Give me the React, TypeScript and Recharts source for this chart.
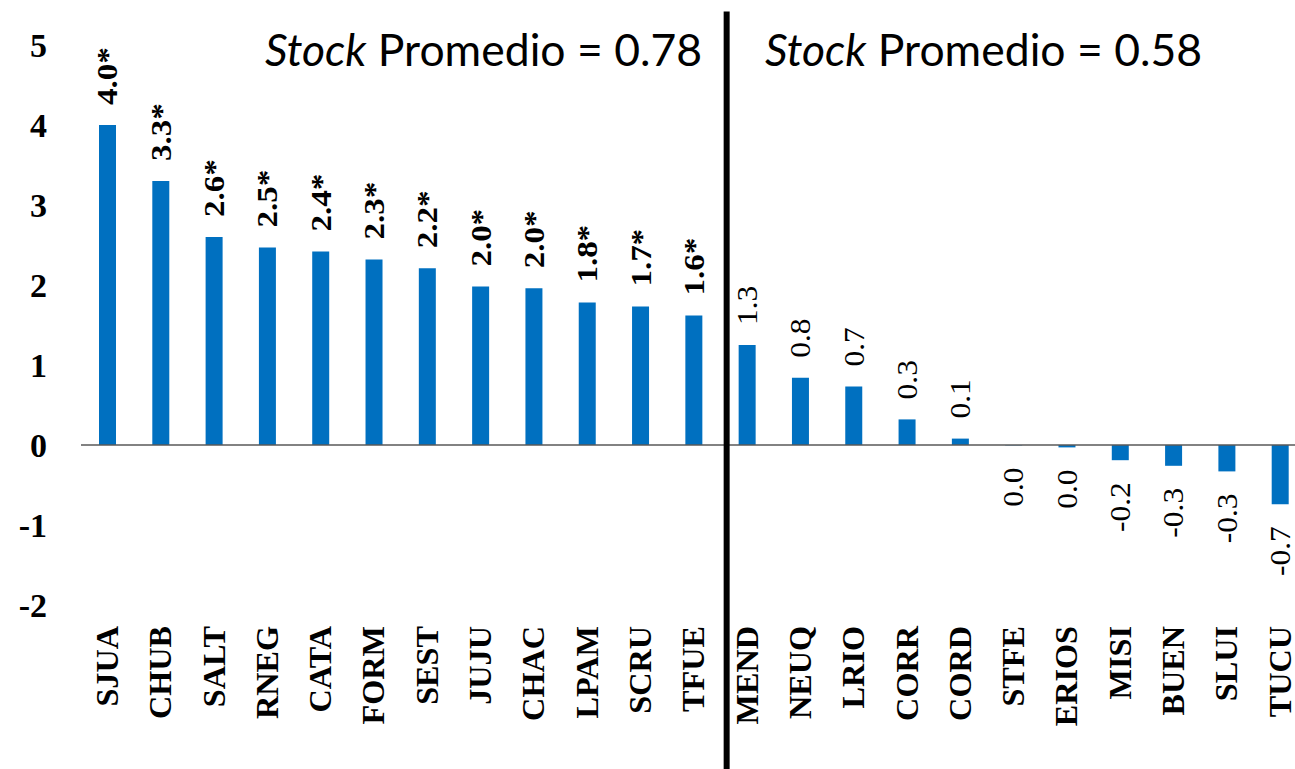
import { BarChart, Bar, XAxis, YAxis, ReferenceLine, LabelList } from 'recharts';

// provincias, en el orden del gráfico
const provinces = [
  'SJUA', 'CHUB', 'SALT', 'RNEG', 'CATA', 'FORM', 'SEST', 'JUJU', 'CHAC', 'LPAM', 'SCRU', 'TFUE',
  'MEND', 'NEUQ', 'LRIO', 'CORR', 'CORD', 'STFE', 'ERIOS', 'MISI', 'BUEN', 'SLUI', 'TUCU',
];

const values = [
  4.0, 3.3, 2.6, 2.47, 2.42, 2.32, 2.21, 1.98, 1.96, 1.78, 1.73, 1.62,
  1.25, 0.84, 0.73, 0.32, 0.08, -0.005, -0.03, -0.19, -0.26, -0.33, -0.74,
];

const valueLabels = [
  '4.0*', '3.3*', '2.6*', '2.5*', '2.4*', '2.3*', '2.2*', '2.0*', '2.0*', '1.8*', '1.7*', '1.6*',
  '1.3', '0.8', '0.7', '0.3', '0.1', '0.0', '0.0', '-0.2', '-0.3', '-0.3', '-0.7',
];

const yTicks = [-2, -1, 0, 1, 2, 3, 4, 5];

const groupAverages = ['0.78', '0.58'];
const lastOfFirstGroup = 'TFUE';

const data = provinces.map((name, i) => ({ name, value: values[i], label: valueLabels[i] }));

const SERIF = '"Liberation Serif", "Times New Roman", serif';
const SANS = 'Lato, "Open Sans", sans-serif';

const ProvinceTick = (props: any) => {
  const { x, y, payload } = props;
  return (
    <text
      transform={`translate(${x},${y + 21}) rotate(-90) scale(1.04,1)`}
      textAnchor="end"
      dominantBaseline="central"
      fontFamily={SERIF}
      fontWeight={700}
      fontSize={31}
      fill="#000"
    >
      {payload.value}
    </text>
  );
};

const renderValueLabel = (props: any) => {
  const { x, y, width, height, value } = props;
  if (x === undefined || y === undefined) return null;
  const txt = String(value);
  const num = parseFloat(txt);
  const cx = Number(x) + Number(width) / 2;
  const top = Math.min(Number(y), Number(y) + Number(height));
  const bottom = Math.max(Number(y), Number(y) + Number(height));
  const above = num > 0;
  const ay = above ? top - 20 : bottom + 22;
  const bold = txt.includes('*');
  return (
    <text
      transform={`translate(${cx},${ay}) rotate(-90) scale(${bold ? 1.1 : 1.05},1)`}
      textAnchor={above ? 'start' : 'end'}
      dominantBaseline="central"
      fontFamily={SERIF}
      fontWeight={bold ? 700 : 400}
      fontSize={30}
      fill="#000"
    >
      {txt}
    </text>
  );
};

const DividerLine = (props: any) => {
  const { x1, y1, x2, y2 } = props;
  return <line x1={x1 + 6} y1={y1} x2={x2 + 6} y2={y2} stroke="#000" strokeWidth={6} />;
};

export default function App() {
  return (
    <div style={{ position: 'absolute', left: 0, top: 0, width: 1295, height: 769, overflow: 'hidden', background: '#fff' }}>
      <BarChart
        width={1310}
        height={769}
        data={data}
        margin={{ top: 45, right: 3, left: 0, bottom: 0 }}
      >
        <XAxis
          dataKey="name"
          interval={0}
          axisLine={false}
          tickLine={false}
          tickSize={0}
          tickMargin={0}
          height={164}
          tick={<ProvinceTick />}
        />
        <YAxis
          domain={[-2, 5]}
          ticks={yTicks}
          width={81}
          axisLine={false}
          tickLine={false}
          tickSize={0}
          tickMargin={34}
          tick={{ fontFamily: SERIF, fontWeight: 700, fontSize: 34, fill: '#000' }}
        />
        <ReferenceLine y={0} stroke="#595959" strokeWidth={1.5} />
        <Bar dataKey="value" fill="#0070C0" barSize={17} isAnimationActive={false}>
          <LabelList dataKey="label" content={renderValueLabel} />
        </Bar>
        <ReferenceLine
          segment={[{ x: lastOfFirstGroup, y: 5.42 }, { x: lastOfFirstGroup, y: -4.2 }]}
          position="end"
          ifOverflow="visible"
          stroke="#000"
          strokeWidth={6}
          shape={<DividerLine />}
        />
      </BarChart>
      <svg width={1295} height={100} style={{ position: 'absolute', left: 0, top: 0, pointerEvents: 'none' }}>
        <text x={265} y={66} fontFamily={SANS} fontSize={44.5} fill="#000">
          <tspan fontStyle="italic">Stock</tspan> Promedio = {groupAverages[0]}
        </text>
        <text x={765} y={66} fontFamily={SANS} fontSize={44.5} fill="#000">
          <tspan fontStyle="italic">Stock</tspan> Promedio = {groupAverages[1]}
        </text>
      </svg>
    </div>
  );
}
